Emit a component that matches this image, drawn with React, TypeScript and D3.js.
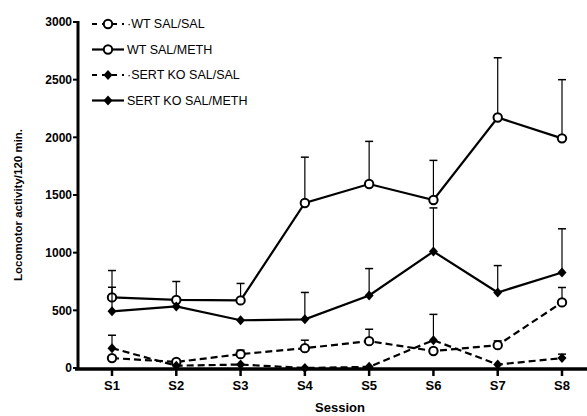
import React from "react";
import * as d3 from "d3";

const sessions = ["S1", "S2", "S3", "S4", "S5", "S6", "S7", "S8"];
const yTicks = [0, 500, 1000, 1500, 2000, 2500, 3000];

const wtSalSal = [86, 52, 120, 172, 233, 147, 198, 569];
const wtSalSalErr = [86, 52, 155, 241, 336, 147, 235, 698];
const wtSalMeth = [612, 590, 586, 1431, 1595, 1457, 2172, 1991];
const wtSalMethErr = [845, 750, 733, 1828, 1965, 1800, 2690, 2500];
const koSalSal = [172, 20, 30, 0, 10, 241, 30, 86];
const koSalSalErr = [284, 20, 30, 0, 10, 465, 30, 120];
const koSalMeth = [491, 534, 414, 422, 629, 1010, 655, 828];
const koSalMethErr = [700, 534, 414, 655, 862, 1388, 888, 1207];

const seriesList = [
  { name: "WT SAL/SAL", values: wtSalSal, err: wtSalSalErr, dashed: true, open: true },
  { name: "WT SAL/METH", values: wtSalMeth, err: wtSalMethErr, dashed: false, open: true },
  { name: "SERT KO SAL/SAL", values: koSalSal, err: koSalSalErr, dashed: true, open: false },
  { name: "SERT KO SAL/METH", values: koSalMeth, err: koSalMethErr, dashed: false, open: false },
];

const width = 587;
const height = 416;
const font = "'Liberation Sans', Arial, sans-serif";

export default function App() {
  const x = d3.scalePoint<string>().domain(sessions).range([112, 562]);
  const y = d3.scaleLinear().domain([0, 3000]).range([368, 22]);
  const line = d3
    .line<number>()
    .x((_, i) => x(sessions[i])!)
    .y((d) => y(d));
  const diamond = "M0,-5L4.5,0L0,5L-4.5,0Z";

  const marker = (open: boolean, cx: number, cy: number, key: string) =>
    open ? (
      <circle key={key} cx={cx} cy={cy} r={4.2} fill="#fff" stroke="#000" strokeWidth={2} />
    ) : (
      <path key={key} d={diamond} transform={`translate(${cx},${cy})`} fill="#000" />
    );

  return (
    <svg width={width} height={height} style={{ position: "absolute", left: 0, top: 0 }}>
      <rect width={width} height={height} fill="#fff" />
      {/* y axis */}
      <line x1={78} x2={78} y1={y(3000) - 1} y2={y(0) + 2} stroke="#000" strokeWidth={3} />
      {yTicks.map((t) => (
        <g key={t}>
          <line x1={73} x2={78} y1={y(t)} y2={y(t)} stroke="#000" strokeWidth={2} />
          <text x={72} y={y(t)} dy="0.35em" textAnchor="end" fontFamily={font} fontWeight="bold" fontSize={12}>
            {t}
          </text>
        </g>
      ))}
      <text
        transform={`translate(22,${(y(0) + y(3000)) / 2 + 10}) rotate(-90)`}
        textAnchor="middle"
        fontFamily={font}
        fontWeight="bold"
        fontSize={11.5}
      >
        Locomotor activity/120 min.
      </text>

      {/* series */}
      {seriesList.map((s) => (
        <g key={s.name}>
          {s.values.map((v, i) => {
            const cx = x(sessions[i])!;
            if (s.err[i] <= v) return null;
            return (
              <g key={i}>
                <line x1={cx} x2={cx} y1={y(v)} y2={y(s.err[i])} stroke="#000" strokeWidth={1.2} />
                <line x1={cx - 4} x2={cx + 4} y1={y(s.err[i])} y2={y(s.err[i])} stroke="#000" strokeWidth={1.5} />
              </g>
            );
          })}
          <path
            d={line(s.values)!}
            fill="none"
            stroke="#000"
            strokeWidth={2.2}
            strokeDasharray={s.dashed ? "7,4" : undefined}
          />
          {s.values.map((v, i) => marker(s.open, x(sessions[i])!, y(v), `m${i}`))}
        </g>
      ))}

      {/* x axis */}
      <line x1={75} x2={587} y1={y(0) + 1} y2={y(0) + 1} stroke="#000" strokeWidth={3.5} />
      {sessions.map((s) => (
        <g key={s}>
          <line x1={x(s)} x2={x(s)} y1={y(0)} y2={y(0) + 8} stroke="#000" strokeWidth={2.5} />
          <text x={x(s)} y={y(0) + 22} textAnchor="middle" fontFamily={font} fontWeight="bold" fontSize={13}>
            {s}
          </text>
        </g>
      ))}
      <text x={340} y={412} textAnchor="middle" fontFamily={font} fontWeight="bold" fontSize={13}>
        Session
      </text>

      {/* legend */}
      {seriesList.map((s, i) => {
        const ly = 24 + i * 25.5;
        return (
          <g key={s.name}>
            <line
              x1={92}
              x2={124}
              y1={ly}
              y2={ly}
              stroke="#000"
              strokeWidth={2.2}
              strokeDasharray={s.dashed ? "5,5" : undefined}
            />
            {marker(s.open, 108, ly, "lm")}
            <text x={127} y={ly} dy="0.35em" fontFamily={font} fontSize={12.5}>
              {s.dashed ? "·" : ""}
              {s.name}
            </text>
          </g>
        );
      })}
    </svg>
  );
}
